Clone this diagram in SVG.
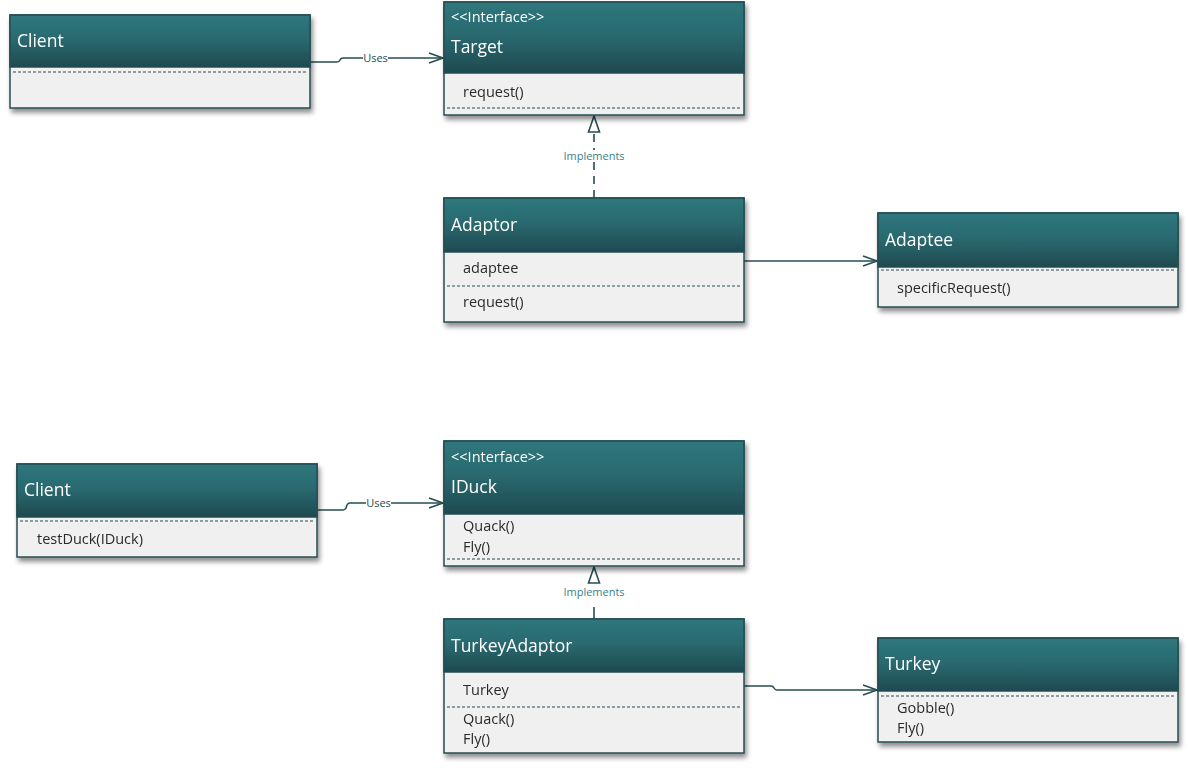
<svg xmlns="http://www.w3.org/2000/svg" width="1188" height="768" viewBox="0 0 1188 768">
  <defs>
    <linearGradient id="hdr" x1="0" y1="0" x2="0" y2="1">
      <stop offset="0" stop-color="#2e777d"/>
      <stop offset="0.45" stop-color="#2a6a70"/>
      <stop offset="1" stop-color="#1e4a50"/>
    </linearGradient>
    <filter id="shadow" x="-5%" y="-10%" width="115%" height="130%">
      <feGaussianBlur in="SourceAlpha" stdDeviation="2.5"/>
      <feOffset dx="2" dy="4" result="b"/>
      <feComponentTransfer><feFuncA type="linear" slope="0.45"/></feComponentTransfer>
      <feMerge><feMergeNode/><feMergeNode in="SourceGraphic"/></feMerge>
    </filter>
    <marker id="open" viewBox="0 0 16 12" refX="15" refY="6" markerWidth="16" markerHeight="12" markerUnits="userSpaceOnUse" orient="auto">
      <path d="M1,1 L15,6 L1,11" fill="none" stroke="#264d52" stroke-width="1.6"/>
    </marker>
    <marker id="tri" viewBox="0 0 18 14" refX="17" refY="7" markerWidth="18" markerHeight="14" markerUnits="userSpaceOnUse" orient="auto">
      <path d="M17,7 L1,1.5 L1,12.5 Z" fill="#ffffff" stroke="#264d52" stroke-width="1.6" stroke-linejoin="miter"/>
    </marker>
  </defs>
  <style>
    .box { fill: #f0f0f0; stroke: #264d52; stroke-width: 1.5; }
    .head { fill: url(#hdr); stroke: #264d52; stroke-width: 1.5; }
    .sep { stroke: #264d52; stroke-width: 1.2; stroke-dasharray: 3 2; }
    .title { font-family: "Open Sans", "Liberation Sans", sans-serif; font-size: 17.5px; fill: #ffffff; }
    .stereo { font-family: "Open Sans", "Liberation Sans", sans-serif; font-size: 14.5px; fill: #ffffff; }
    .member { font-family: "Open Sans", "Liberation Sans", sans-serif; font-size: 14.5px; fill: #2a2a2a; }
    .lbl { font-family: "Open Sans", "Liberation Sans", sans-serif; font-size: 11px; fill: #264d52; }
    .impl { font-family: "Open Sans", "Liberation Sans", sans-serif; font-size: 11px; fill: #3a7f8a; }
    .line { fill: none; stroke: #264d52; stroke-width: 1.6; }
  </style>

  <g id="connectors">
    <!-- Client uses Target -->
    <path class="line" d="M310,62 H337 Q339,62 340,60 Q341,58 343,58 H443" marker-end="url(#open)"/>
    <rect x="363" y="53" width="25" height="10" fill="#ffffff"/>
    <text class="lbl" x="375.5" y="62" text-anchor="middle">Uses</text>
    <!-- Adaptor implements Target -->
    <path class="line" d="M594,198 V116" stroke-dasharray="8 6" marker-end="url(#tri)"/>
    <rect x="560" y="150" width="68" height="12" fill="#ffffff"/>
    <text class="impl" x="594" y="160" text-anchor="middle">Implements</text>
    <!-- Adaptor to Adaptee -->
    <path class="line" d="M744,261 H877" marker-end="url(#open)"/>

    <!-- Client uses IDuck -->
    <path class="line" d="M317,510 H343 Q345,510 346,508 Q347,503 350,503 H443" marker-end="url(#open)"/>
    <rect x="366" y="498" width="25" height="10" fill="#ffffff"/>
    <text class="lbl" x="378.5" y="507" text-anchor="middle">Uses</text>
    <!-- TurkeyAdaptor implements IDuck -->
    <path class="line" d="M594,620 V567" stroke-dasharray="13 40" marker-end="url(#tri)"/>
    <rect x="560" y="586" width="68" height="12" fill="#ffffff"/>
    <text class="impl" x="594" y="596" text-anchor="middle">Implements</text>
    <!-- TurkeyAdaptor to Turkey -->
    <path class="line" d="M744,686 H771 Q773,686 774,688 Q775,690 777,690 H877" marker-end="url(#open)"/>
  </g>

  <!-- Adapter pattern (generic) -->
  <g id="client-top" filter="url(#shadow)">
    <rect class="box" x="10" y="15" width="300" height="93"/>
    <rect class="head" x="10" y="15" width="300" height="52"/>
    <text class="title" x="17" y="47">Client</text>
    <line class="sep" x1="13" y1="72" x2="307" y2="72"/>
  </g>

  <g id="target" filter="url(#shadow)">
    <rect class="box" x="444" y="2" width="300" height="113"/>
    <rect class="head" x="444" y="2" width="300" height="71"/>
    <text class="stereo" x="451" y="22">&lt;&lt;Interface&gt;&gt;</text>
    <text class="title" x="451" y="53">Target</text>
    <text class="member" x="463" y="97">request()</text>
    <line class="sep" x1="447" y1="108" x2="741" y2="108"/>
  </g>

  <g id="adaptor" filter="url(#shadow)">
    <rect class="box" x="444" y="198" width="300" height="124"/>
    <rect class="head" x="444" y="198" width="300" height="54"/>
    <text class="title" x="451" y="231">Adaptor</text>
    <text class="member" x="463" y="273">adaptee</text>
    <line class="sep" x1="447" y1="286" x2="741" y2="286"/>
    <text class="member" x="463" y="307">request()</text>
  </g>

  <g id="adaptee" filter="url(#shadow)">
    <rect class="box" x="878" y="213" width="300" height="94"/>
    <rect class="head" x="878" y="213" width="300" height="54"/>
    <text class="title" x="885" y="246">Adaptee</text>
    <line class="sep" x1="881" y1="270" x2="1175" y2="270"/>
    <text class="member" x="897" y="293">specificRequest()</text>
  </g>

  <!-- Turkey adapter example -->
  <g id="client-bottom" filter="url(#shadow)">
    <rect class="box" x="17" y="464" width="300" height="93"/>
    <rect class="head" x="17" y="464" width="300" height="53"/>
    <text class="title" x="24" y="496">Client</text>
    <line class="sep" x1="20" y1="521" x2="314" y2="521"/>
    <text class="member" x="37" y="544">testDuck(IDuck)</text>
  </g>

  <g id="iduck" filter="url(#shadow)">
    <rect class="box" x="444" y="441" width="300" height="125"/>
    <rect class="head" x="444" y="441" width="300" height="73"/>
    <text class="stereo" x="451" y="462">&lt;&lt;Interface&gt;&gt;</text>
    <text class="title" x="451" y="493">IDuck</text>
    <text class="member" x="463" y="531">Quack()</text>
    <text class="member" x="463" y="552">Fly()</text>
    <line class="sep" x1="447" y1="559" x2="741" y2="559"/>
  </g>

  <g id="turkey-adaptor" filter="url(#shadow)">
    <rect class="box" x="444" y="619" width="300" height="134"/>
    <rect class="head" x="444" y="619" width="300" height="53"/>
    <text class="title" x="451" y="652">TurkeyAdaptor</text>
    <text class="member" x="463" y="695">Turkey</text>
    <line class="sep" x1="447" y1="707" x2="741" y2="707"/>
    <text class="member" x="463" y="724">Quack()</text>
    <text class="member" x="463" y="744">Fly()</text>
  </g>

  <g id="turkey" filter="url(#shadow)">
    <rect class="box" x="878" y="638" width="300" height="104"/>
    <rect class="head" x="878" y="638" width="300" height="53"/>
    <text class="title" x="885" y="670">Turkey</text>
    <line class="sep" x1="881" y1="696" x2="1175" y2="696"/>
    <text class="member" x="897" y="713">Gobble()</text>
    <text class="member" x="897" y="733">Fly()</text>
  </g>
</svg>
